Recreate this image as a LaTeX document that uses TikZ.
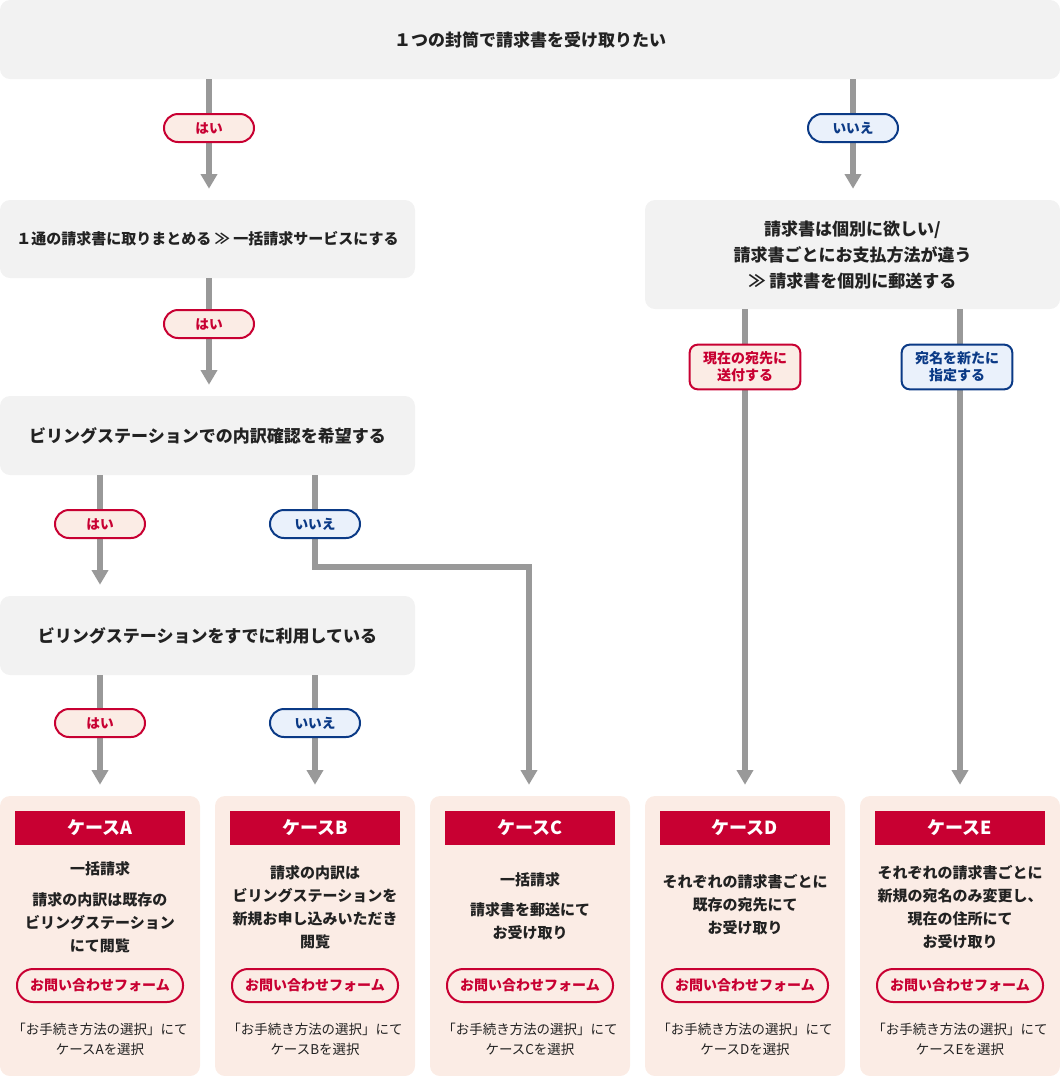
\documentclass[tikz,border=0pt]{standalone}
\usepackage{fontspec}
\setmainfont{Noto Sans CJK JP}
\usetikzlibrary{arrows.meta}
\definecolor{boxgray}{HTML}{F2F2F2}
\definecolor{linegray}{HTML}{999999}
\definecolor{dred}{HTML}{C80032}
\definecolor{peach}{HTML}{FBECE5}
\definecolor{dblue}{HTML}{0B3A86}
\definecolor{lblue}{HTML}{EAF1FB}
\definecolor{txt}{HTML}{222222}
\newcommand\myfs[2]{\fontsize{#1}{#2}\selectfont}
\begin{document}
\begin{tikzpicture}[x=0.75pt,y=-0.75pt,
  sz/.style 2 args={minimum width=#1*0.75pt, minimum height=#2*0.75pt},
  qbox/.style={fill=boxgray, rounded corners=7.5pt, inner sep=0pt, align=center, text=txt,
    font=\bfseries\myfs{12.75pt}{19.5pt}},
  conn/.style={draw=linegray, line width=4.5pt, -{Triangle[width=12pt,length=11pt]}, shorten >=8.25pt},
  pill/.style={rounded corners=10.5pt, line width=1.5pt, inner sep=0pt, minimum width=67.5pt, minimum height=21pt,
    font=\bfseries\myfs{10.25pt}{12pt}},
  yes/.style={pill, draw=dred, fill=peach, text=dred},
  no/.style={pill, draw=dblue, fill=lblue, text=dblue},
  rpill/.style={rounded corners=6pt, line width=1.5pt, inner sep=0pt, align=center, minimum width=83pt, minimum height=33.5pt,
    font=\bfseries\myfs{10.5pt}{13pt}},
  casebox/.style={fill=peach, rounded corners=7.5pt, inner sep=0pt, sz={200}{280}},
  casehead/.style={fill=dred, inner sep=0pt, text=white, sz={170}{34}, font=\bfseries\myfs{13.5pt}{14pt}},
  casetxt/.style={align=center, inner sep=0pt, text=txt, font=\bfseries\myfs{11.25pt}{17.25pt}},
  btn/.style={draw=dred, line width=1.5pt, rounded corners=12pt, inner sep=0pt, text=dred, sz={166}{33},
    font=\bfseries\myfs{10.5pt}{12pt}},
  foot/.style={align=center, inner sep=0pt, text=txt, font=\myfs{10.1pt}{15pt}}
]
\useasboundingbox (0,0) rectangle (1060,1076);

% x positions of connectors
\coordinate (xL) at (209,0);
\coordinate (xR) at (853,0);
\coordinate (xA) at (100,0);
\coordinate (xB) at (315,0);
\coordinate (xC) at (529,0);
\coordinate (xD) at (745,0);
\coordinate (xE) at (960,0);
\coordinate (bend) at (529,567);

% question boxes
\node[qbox, sz={1060}{79}] (top) at (530,39.5) {１つの封筒で請求書を受け取りたい};
\node[qbox, sz={415}{78}, font=\bfseries\myfs{11.25pt}{19.5pt}] (b2) at (207.5,239) {１通の請求書に取りまとめる ≫ 一括請求サービスにする};
\node[qbox, sz={415}{109}] (bR) at (852.5,254.5) {請求書は個別に欲しい/\\請求書ごとにお支払方法が違う\\≫ 請求書を個別に郵送する};
\node[qbox, sz={415}{79}] (b3) at (207.5,435.5) {ビリングステーションでの内訳確認を希望する};
\node[qbox, sz={415}{79}] (b4) at (207.5,635.5) {ビリングステーションをすでに利用している};

% case boxes
\node[casebox] (cA) at (100,936) {};
\node[casebox] (cB) at (315,936) {};
\node[casebox] (cC) at (530,936) {};
\node[casebox] (cD) at (745,936) {};
\node[casebox] (cE) at (960,936) {};

% connectors
\draw[conn] (top.south -| xL) -- (b2.north -| xL);
\draw[conn] (top.south -| xR) -- (bR.north -| xR);
\draw[conn] (b2.south -| xL) -- (b3.north -| xL);
\draw[conn] (b3.south -| xA) -- (b4.north -| xA);
\draw[conn] (b3.south -| xB) -- (xB |- bend) -- (bend) -- (cC.north -| bend);
\draw[conn] (b4.south -| xA) -- (cA.north -| xA);
\draw[conn] (b4.south -| xB) -- (cB.north -| xB);
\draw[conn] (bR.south -| xD) -- (cD.north -| xD);
\draw[conn] (bR.south -| xE) -- (cE.north -| xE);

% labels on connectors
\node[yes] (l1) at (209,128) {はい};
\node[no] (l2) at (853,128) {いいえ};
\node[yes] (l3) at (209,324) {はい};
\node[yes] (l4) at (100,524) {はい};
\node[no] (l5) at (315,524) {いいえ};
\node[yes] (l6) at (100,723) {はい};
\node[no] (l7) at (315,723) {いいえ};
\node[rpill, draw=dred, fill=peach, text=dred] (l8) at (745,367) {現在の宛先に\\送付する};
\node[rpill, draw=dblue, fill=lblue, text=dblue] (l9) at (957,367) {宛名を新たに\\指定する};

% case A
\node[casehead] (hA) at (100,828) {ケースA};
\node[casetxt] (tA1) at (100,869) {一括請求};
\node[casetxt] (tA2) at (100,922.5) {請求の内訳は既存の\\ビリングステーション\\にて閲覧};
\node[btn] (fA) at (100,985.5) {お問い合わせフォーム};
\node[foot] (sA) at (100,1039) {「お手続き方法の選択」にて\\ケースAを選択};

% case B
\node[casehead] (hB) at (315,828) {ケースB};
\node[casetxt] (tB1) at (315,907) {請求の内訳は\\ビリングステーションを\\新規お申し込みいただき\\閲覧};
\node[btn] (fB) at (315,985.5) {お問い合わせフォーム};
\node[foot] (sB) at (315,1039) {「お手続き方法の選択」にて\\ケースBを選択};

% case C
\node[casehead] (hC) at (530,828) {ケースC};
\node[casetxt] (tC1) at (530,880) {一括請求};
\node[casetxt] (tC2) at (530,921.5) {請求書を郵送にて\\お受け取り};
\node[btn] (fC) at (530,985.5) {お問い合わせフォーム};
\node[foot] (sC) at (530,1039) {「お手続き方法の選択」にて\\ケースCを選択};

% case D
\node[casehead] (hD) at (745,828) {ケースD};
\node[casetxt] (tD1) at (745,905) {それぞれの請求書ごとに\\既存の宛先にて\\お受け取り};
\node[btn] (fD) at (745,985.5) {お問い合わせフォーム};
\node[foot] (sD) at (745,1039) {「お手続き方法の選択」にて\\ケースDを選択};

% case E
\node[casehead] (hE) at (960,828) {ケースE};
\node[casetxt] (tE1) at (960,907) {それぞれの請求書ごとに\\新規の宛名のみ変更し、\\現在の住所にて\\お受け取り};
\node[btn] (fE) at (960,985.5) {お問い合わせフォーム};
\node[foot] (sE) at (960,1039) {「お手続き方法の選択」にて\\ケースEを選択};
\end{tikzpicture}
\end{document}
